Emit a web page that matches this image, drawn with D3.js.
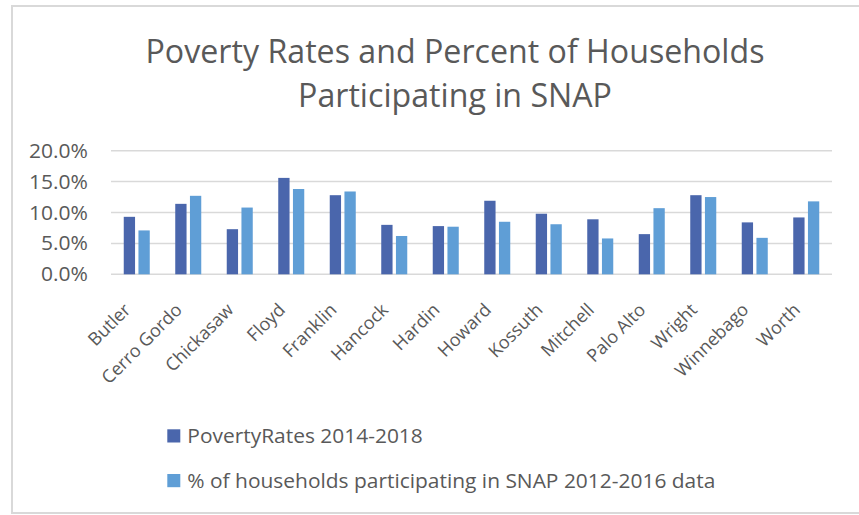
<!DOCTYPE html>
<html><head><meta charset="utf-8">
<script src="https://cdn.jsdelivr.net/npm/d3@7"></script>
<style>html,body{margin:0;padding:0;background:#fff;}svg{display:block;}</style>
</head><body>
<svg id="chart" width="859" height="515"></svg>
<script>
const categories = ["Butler","Cerro Gordo","Chickasaw","Floyd","Franklin","Hancock","Hardin","Howard","Kossuth","Mitchell","Palo Alto","Wright","Winnebago","Worth"];
const povertyRates = [9.3,11.4,7.3,15.6,12.8,8.0,7.8,11.9,9.8,8.9,6.5,12.8,8.4,9.2];
const snapRates = [7.1,12.7,10.8,13.8,13.4,6.2,7.7,8.5,8.1,5.8,10.7,12.5,5.9,11.8];
const seriesNames = ["PovertyRates 2014-2018","% of households participating in SNAP 2012-2016 data"];
const yTicks = [0,5,10,15,20];
const titleLines = ["Poverty Rates and Percent of Households","Participating in SNAP"];

const colors = ["#4A66AC","#5F9ED6"];
const font = "'Open Sans', 'Noto Sans', sans-serif";
const textColor = "#595959";
const svg = d3.select("#chart");

// horizontally condense a text selection so that element idx reaches a target width
function condense(sel, target, idx){
  const nodes = sel.nodes();
  const k = target / nodes[idx||0].getComputedTextLength();
  nodes.forEach(n=>{
    const w = n.getComputedTextLength();
    d3.select(n).attr("textLength", w*k).attr("lengthAdjust","spacingAndGlyphs");
  });
}

// chart border
svg.append("rect").attr("x",12).attr("y",6).attr("width",870).attr("height",507)
  .attr("fill","#fff").attr("stroke","#d9d9d9").attr("stroke-width",2);

// title
const tt = svg.append("g").selectAll("text").data(titleLines).join("text")
  .attr("x",455).attr("y",(d,i)=>63.3+i*44)
  .attr("text-anchor","middle").attr("font-family",font).attr("font-size",33.5)
  .attr("fill",textColor).text(d=>d);
condense(tt, 619);

const x = d3.scaleBand().domain(categories).range([111,832]).paddingInner(0).paddingOuter(0);
const xs = d3.scaleBand().domain([0,1]).range([0,x.bandwidth()]).paddingInner(0.231).paddingOuter(0.867);
const y = d3.scaleLinear().domain([0,20]).range([274.3,150.7]);

// gridlines
svg.append("g").selectAll("line").data(yTicks).join("line")
  .attr("x1",111).attr("x2",832).attr("y1",d=>y(d)).attr("y2",d=>y(d))
  .attr("stroke","#d9d9d9").attr("stroke-width",1.5);

// y axis labels
const yl = svg.append("g").selectAll("text").data(yTicks.slice().reverse()).join("text")
  .attr("x",88).attr("y",d=>y(d)).attr("dy","0.36em")
  .attr("text-anchor","end").attr("font-family",font).attr("font-size",19.5)
  .attr("fill",textColor).text(d=>d3.format(".1f")(d)+"%");
condense(yl, 59);

// bars
const rows = categories.map((c,i)=>({c, v:[povertyRates[i],snapRates[i]]}));
const g = svg.append("g").selectAll("g").data(rows).join("g")
  .attr("transform",d=>`translate(${x(d.c)},0)`);
g.selectAll("rect").data(d=>d.v.map((v,k)=>({v,k}))).join("rect")
  .attr("x",d=>xs(d.k)).attr("width",xs.bandwidth())
  .attr("y",d=>y(d.v)).attr("height",d=>y(0)-y(d.v))
  .attr("fill",d=>colors[d.k]);

// x labels
svg.append("g").selectAll("text").data(categories).join("text")
  .attr("transform",d=>`translate(${x(d)+x.bandwidth()/2-9.5},${306.5}) rotate(-45)`)
  .attr("text-anchor","end").attr("dy","0.35em")
  .attr("font-family",font).attr("font-size",18).attr("fill",textColor).text(d=>d);

// legend
const lg = svg.append("g").selectAll("g").data(seriesNames).join("g")
  .attr("transform",(d,i)=>`translate(167.3,${429.3+i*44.7})`);
lg.append("rect").attr("width",13).attr("height",13.2).attr("fill",(d,i)=>colors[i]);
const lt = lg.append("text").attr("x",20).attr("y",13.8).attr("font-family",font).attr("font-size",20)
  .attr("fill",textColor).text(d=>d);
condense(lt, 528, 1);
</script>
</body></html>
